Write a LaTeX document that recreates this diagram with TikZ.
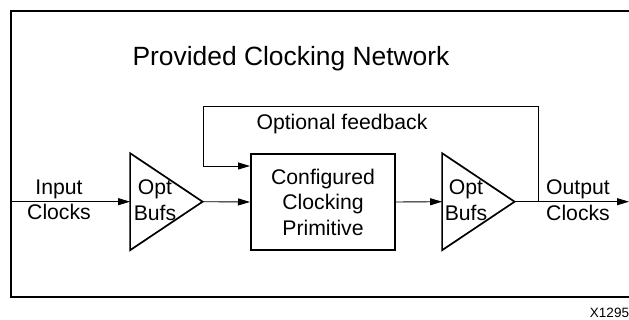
\documentclass[tikz,border=0pt]{standalone}
\usepackage{fontspec}
\setmainfont{Liberation Sans}
\usetikzlibrary{positioning, shapes.geometric, arrows.meta}

\begin{document}
\begin{tikzpicture}[x=1pt, y=-1pt,
    txt/.style={align=center, inner sep=0pt, font=\fontsize{21.2}{25.5}\selectfont},
    buf/.style={isosceles triangle, isosceles triangle stretches, draw, line width=1.7pt,
        minimum width=97pt, minimum height=72.5pt, inner sep=0pt, outer sep=0pt, anchor=apex},
    flow/.style={line width=0.9pt, -{Triangle[length=12pt, width=7pt]}}]
    \useasboundingbox (0,0) rectangle (629,320);
    % frame, open to the right
    \draw[line width=1.7pt] (629,10.7) -- (11,10.7) -- (11,296.7) -- (629,296.7);
    \node[font=\fontsize{26.4}{30}\selectfont, inner sep=0pt] (title) at (291,59) {Provided Clocking Network};

    \node[draw, line width=2pt, minimum width=144pt, minimum height=96pt, inner sep=0pt] (prim) at (323,202) {};
    \node[txt] (primtxt) at (prim.center) {Configured\\Clocking\\Primitive};
    \node[buf] (buf1) at (202.6,201.7) {};
    \node[buf] (buf2) at (514.6,201.7) {};
    \node[txt] (buf1txt) at (155,200) {Opt\\Bufs};
    \node[txt] (buf2txt) at (466,200) {Opt\\Bufs};

    \coordinate (in) at (11,201.7);
    \coordinate (out) at (629,201.7);
    \coordinate (fb) at (538,201.7);
    \coordinate (fbtop) at (203,106.7);
    \coordinate (fbin) at ([yshift=36pt]prim.west);

    \draw[flow] (in) -- (buf1.lower side);
    \draw[flow] (buf1.apex) -- (prim.west);
    \draw[flow] (prim.east) -- (buf2.lower side);
    \draw[flow] (buf2.apex) -- (out);
    \draw[flow] (fb) |- (fbtop) |- (fbin);

    \node[txt] (intxt) at (59,200) {Input\\Clocks};
    \node[txt] (outtxt) at (578,200) {Output\\Clocks};
    \node[txt] (fbtxt) at (342,124) {Optional feedback};
    \node[font=\fontsize{13.5}{15}\selectfont, inner sep=0pt] (fignum) at (609.5,313) {X1295};
\end{tikzpicture}
\end{document}
